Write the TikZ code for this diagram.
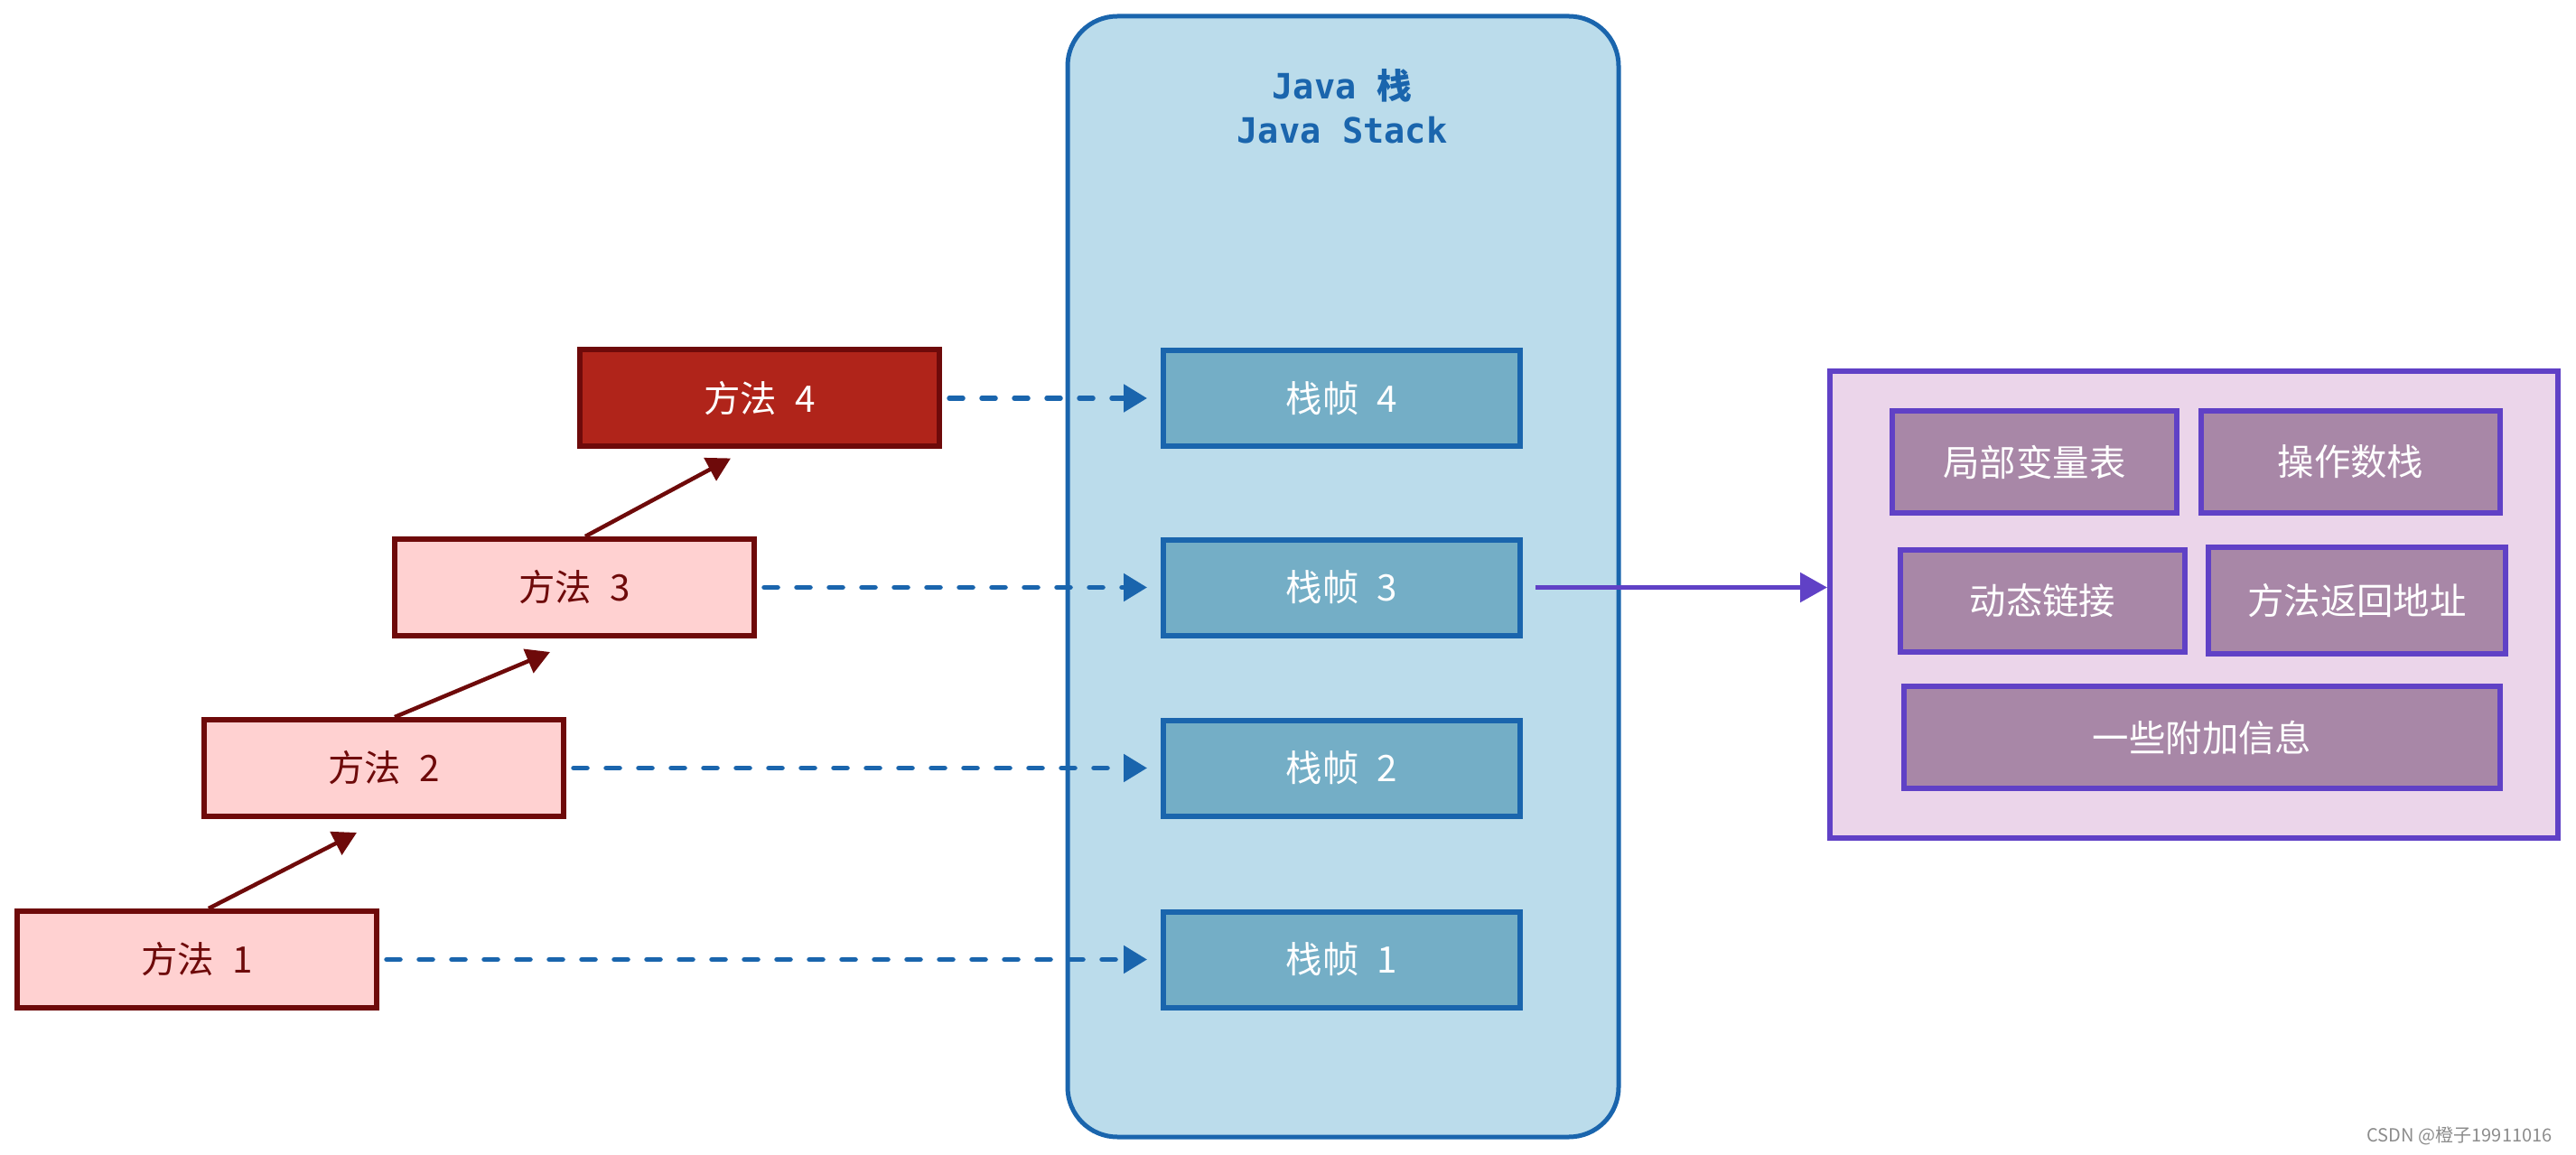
\documentclass[tikz,border=0pt]{standalone}
\usepackage{fontspec}
\newfontfamily\cjk{Noto Sans CJK SC}
\newfontfamily\javamono{DejaVu Sans Mono}
\usetikzlibrary{arrows.meta}
\definecolor{stackedge}{HTML}{1A65AD}
\definecolor{stackfill}{HTML}{BBDCEB}
\definecolor{framefill}{HTML}{74AEC6}
\definecolor{methodedge}{HTML}{6E0A0A}
\definecolor{methodfill}{HTML}{FFD1D1}
\definecolor{topfill}{HTML}{B0241A}
\definecolor{infoedge}{HTML}{6041C6}
\definecolor{infofill}{HTML}{EBD5EA}
\definecolor{partfill}{HTML}{A887A7}
\tikzset{
	method/.style={
		draw=methodedge,
		fill=methodfill,
		line width=0.06cm,
		minimum width=3.98cm,
		minimum height=1.07cm,
		text=methodedge,
		font=\cjk\fontsize{11.5}{14}\selectfont
	},
	frame/.style={
		draw=stackedge,
		fill=framefill,
		line width=0.06cm,
		minimum width=3.95cm,
		minimum height=1.06cm,
		text=white,
		font=\cjk\fontsize{11.5}{14}\selectfont
	},
	part/.style={
		draw=infoedge,
		fill=partfill,
		line width=0.06cm,
		minimum height=1.13cm,
		text=white,
		font=\cjk\fontsize{11.5}{14}\selectfont
	},
	call/.style={
		draw=methodedge,
		line width=0.045cm,
		-{Triangle[length=0.26cm, width=0.28cm]}
	},
	link/.style={
		draw=stackedge,
		line width=0.055cm,
		line cap=round,
		dash pattern=on 0.15cm off 0.21cm,
		shorten <=0.08cm,
		shorten >=0.15cm,
		-{Triangle[length=0.26cm, width=0.3cm]}
	}
}
\begin{document}
\begin{tikzpicture}
\useasboundingbox (0,0) rectangle (28.52,12.78);

\node[draw=stackedge, fill=stackfill, line width=0.05cm, rounded corners=0.55cm,
	minimum width=6.1cm, minimum height=12.41cm] (stack) at (14.87, 6.395) {};
\node[text=stackedge, align=center, font=\javamono\bfseries\fontsize{11}{14}\selectfont] (title) at (14.86, 11.6)
	{Java {\cjk 栈}\\Java Stack};

\node[method] (m1) at (2.18, 2.155) {方法\enspace 1};
\node[method] (m2) at (4.25, 4.275) {方法\enspace 2};
\node[method] (m3) at (6.36, 6.275) {方法\enspace 3};
\node[method, fill=topfill, text=white] (m4) at (8.41, 8.37) {方法\enspace 4};

\foreach \i/\y in {1/2.155, 2/4.275, 3/6.275, 4/8.37} {
	\node[frame] (f\i) at (14.855, \y) {栈帧\enspace \i};
	\draw[link] (m\i.east) -- (f\i.west);
}

\draw[call] ([xshift=0.13cm]m1.north) -- ([xshift=-0.3cm, yshift=-0.15cm]m2.south);
\draw[call] ([xshift=0.12cm]m2.north) -- ([xshift=-0.27cm, yshift=-0.15cm]m3.south);
\draw[call] ([xshift=0.12cm]m3.north) -- ([xshift=-0.32cm, yshift=-0.1cm]m4.south);

\node[draw=infoedge, fill=infofill, line width=0.06cm, minimum width=8.06cm, minimum height=5.17cm] (info) at (24.29, 6.085) {};
\node[part, minimum width=3.15cm] (locals) at (22.525, 7.665) {局部变量表};
\node[part, minimum width=3.31cm] (operands) at (26.025, 7.665) {操作数栈};
\node[part, minimum width=3.15cm] (dynlink) at (22.615, 6.125) {动态链接};
\node[part, minimum width=3.29cm, minimum height=1.18cm] (retaddr) at (26.095, 6.13) {方法返回地址};
\node[part, minimum width=6.6cm] (extra) at (24.38, 4.615) {一些附加信息};

\draw[draw=infoedge, line width=0.055cm, shorten <=0.14cm, -{Triangle[length=0.3cm, width=0.32cm]}] (f3.east) -- (f3.east -| info.west);

\node[anchor=east, text=black!45, font=\cjk\fontsize{5.7}{7}\selectfont] (mark) at (28.38, 0.2) {CSDN @橙子19911016};
\end{tikzpicture}
\end{document}
